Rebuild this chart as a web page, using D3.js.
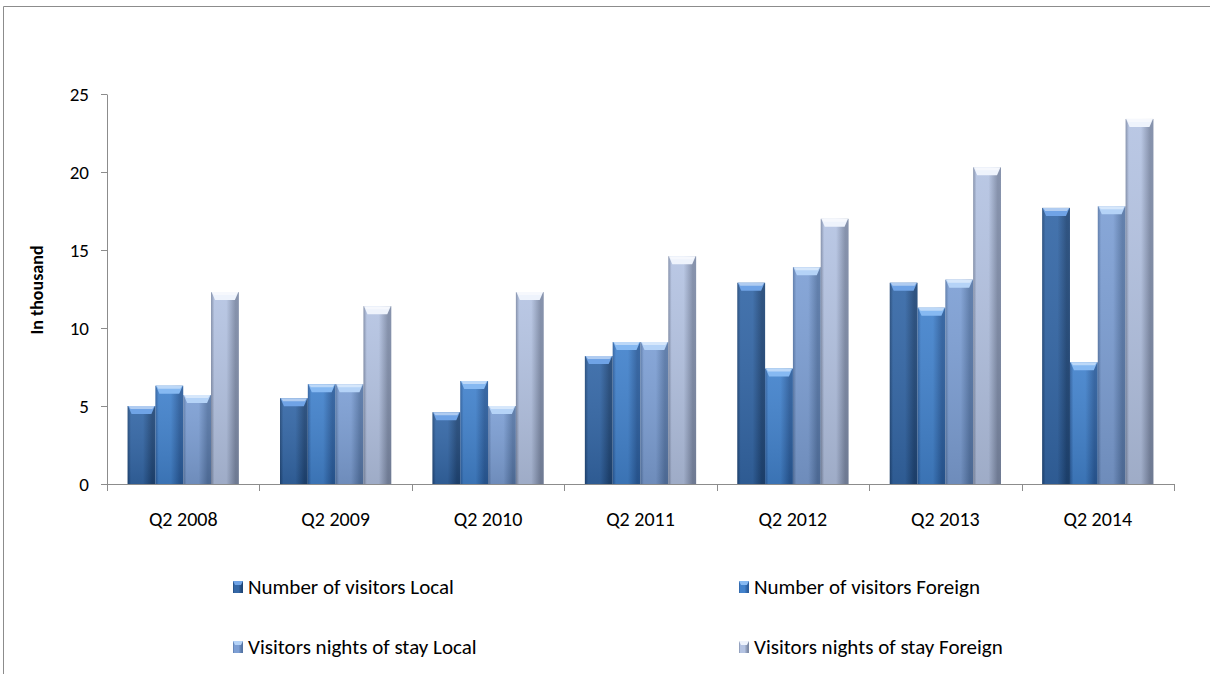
<!DOCTYPE html>
<html>
<head>
<meta charset="UTF-8">
<title>Visitors</title>
<script src="https://d3js.org/d3.v7.min.js"></script>
<style>
  body { margin: 0; background: #fff; }
  svg { display: block; font-family: Carlito, Lato, "Open Sans", sans-serif; }
</style>
</head>
<body>
<div id="chart"></div>
<script>
const categories = ["Q2 2008", "Q2 2009", "Q2 2010", "Q2 2011", "Q2 2012", "Q2 2013", "Q2 2014"];
const seriesNames = ["Number of visitors Local", "Number of visitors Foreign", "Visitors nights of stay Local", "Visitors nights of stay Foreign"];
const visitorsLocal   = [5.0, 5.5, 4.6, 8.2, 12.9, 12.9, 17.7];
const visitorsForeign = [6.3, 6.4, 6.6, 9.1, 7.4, 11.3, 7.8];
const nightsLocal     = [5.7, 6.4, 5.0, 9.1, 13.9, 13.1, 17.8];
const nightsForeign   = [12.3, 11.4, 12.3, 14.6, 17.0, 20.3, 23.4];
const yTicks = [0, 5, 10, 15, 20, 25];

const allSeries = [visitorsLocal, visitorsForeign, nightsLocal, nightsForeign];

// colours: edge, middle, cap
const palette = [
  {edge: "#1f4677", mid: "#3467a6", cap: "#6fa3e6"},
  {edge: "#2a5c9c", mid: "#4282cc", cap: "#86b9f2"},
  {edge: "#5676a6", mid: "#7d9fd4", cap: "#b5d3f7"},
  {edge: "#7d8aa6", mid: "#b4c3e2", cap: "#eef3fc"}
];

const W = 1210, H = 674;
const svg = d3.select("#chart").append("svg").attr("width", W).attr("height", H);

// outer border (top and left visible)
svg.append("path").attr("d", "M3.5,674 V6.5 H1210").attr("fill", "none").attr("stroke", "#8c8c8c").attr("stroke-width", 1);

const defs = svg.append("defs");
palette.forEach((p, i) => {
  const g = defs.append("linearGradient").attr("id", "grad" + i).attr("x1", 0).attr("x2", 1).attr("y1", 0).attr("y2", 0);
  g.append("stop").attr("offset", "0%").attr("stop-color", p.edge);
  g.append("stop").attr("offset", "12%").attr("stop-color", p.mid);
  g.append("stop").attr("offset", "55%").attr("stop-color", p.mid);
  g.append("stop").attr("offset", "88%").attr("stop-color", p.edge);
  g.append("stop").attr("offset", "100%").attr("stop-color", p.edge);
  const v = defs.append("linearGradient").attr("id", "shade" + i).attr("x1", 0).attr("x2", 0).attr("y1", 0).attr("y2", 1);
  v.append("stop").attr("offset", "0%").attr("stop-color", "#fff").attr("stop-opacity", 0.08);
  v.append("stop").attr("offset", "100%").attr("stop-color", "#000").attr("stop-opacity", 0.12);
});

const x0 = d3.scaleBand().domain(categories).range([107, 1174]);
const groupW = x0.bandwidth() * 0.73;
const x1 = d3.scaleBand().domain(d3.range(seriesNames.length)).range([0, groupW]);
const y = d3.scaleLinear().domain([0, 25]).range([484, 94]);

// y axis
const yAxis = svg.append("g").attr("transform", "translate(107,0)")
  .call(d3.axisLeft(y).tickValues(yTicks).tickSize(6).tickPadding(12).tickSizeOuter(0));
yAxis.select(".domain").attr("stroke", "#8c8c8c");
yAxis.selectAll(".tick line").attr("stroke", "#8c8c8c");
yAxis.selectAll("text").attr("font-size", 19).attr("fill", "#000").attr("font-family", "Carlito, Lato, sans-serif");

// bars
const groups = svg.append("g").selectAll("g").data(categories).join("g")
  .attr("transform", c => `translate(${x0(c) + (x0.bandwidth() - groupW) / 2},0)`);

allSeries.forEach((vals, si) => {
  const bw = x1.bandwidth();
  const bar = groups.append("g").attr("transform", `translate(${x1(si)},0)`);
  bar.append("rect")
    .attr("x", 0).attr("width", bw)
    .attr("y", (c, ci) => y(vals[ci]))
    .attr("height", (c, ci) => y(0) - y(vals[ci]))
    .attr("fill", `url(#grad${si})`);
  bar.append("rect")
    .attr("x", 0).attr("width", bw)
    .attr("y", (c, ci) => y(vals[ci]))
    .attr("height", (c, ci) => y(0) - y(vals[ci]))
    .attr("fill", `url(#shade${si})`);
  // top cap highlight
  bar.append("path")
    .attr("d", (c, ci) => {
      const t = y(vals[ci]);
      return `M0.5,${t} H${bw - 0.5} L${bw - 4},${t + 8} H4 Z`;
    })
    .attr("fill", palette[si].cap);
  bar.append("path")
    .attr("d", (c, ci) => {
      const t = y(vals[ci]);
      return `M1,${t} H${bw - 1} L${bw - 3},${t + 3} H3 Z`;
    })
    .attr("fill", "#fff").attr("opacity", 0.45);
});

// x axis
svg.append("line").attr("x1", 107).attr("x2", 1174).attr("y1", 484.5).attr("y2", 484.5).attr("stroke", "#8c8c8c");
const bounds = categories.map(c => x0(c)).concat([x0.range()[1]]);
svg.append("g").selectAll("line").data(bounds).join("line")
  .attr("x1", d => Math.round(d) + 0.5).attr("x2", d => Math.round(d) + 0.5)
  .attr("y1", 484).attr("y2", 491).attr("stroke", "#8c8c8c");
svg.append("g").selectAll("text").data(categories).join("text")
  .attr("x", c => x0(c) + x0.bandwidth() / 2).attr("y", 526)
  .attr("text-anchor", "middle").attr("font-size", 20).text(c => c);

// y title
svg.append("text").attr("transform", "translate(43,290) rotate(-90)")
  .attr("text-anchor", "middle").attr("font-size", 18).attr("font-weight", "bold").text("In thousand");

// legend
const legendPos = [[233, 587], [739, 587], [233, 647], [739, 647]];
const leg = svg.append("g").selectAll("g").data(seriesNames).join("g")
  .attr("transform", (d, i) => `translate(${legendPos[i][0]},${legendPos[i][1]})`);
leg.append("rect").attr("x", 0).attr("y", -6).attr("width", 10).attr("height", 12)
  .attr("fill", (d, i) => `url(#grad${i})`);
leg.append("path").attr("d", "M0,-6 H10 L8,-2 H2 Z").attr("fill", (d, i) => palette[i].cap);
leg.append("text").attr("x", 15).attr("y", 7).attr("font-size", 21).text(d => d);
</script>
</body>
</html>
